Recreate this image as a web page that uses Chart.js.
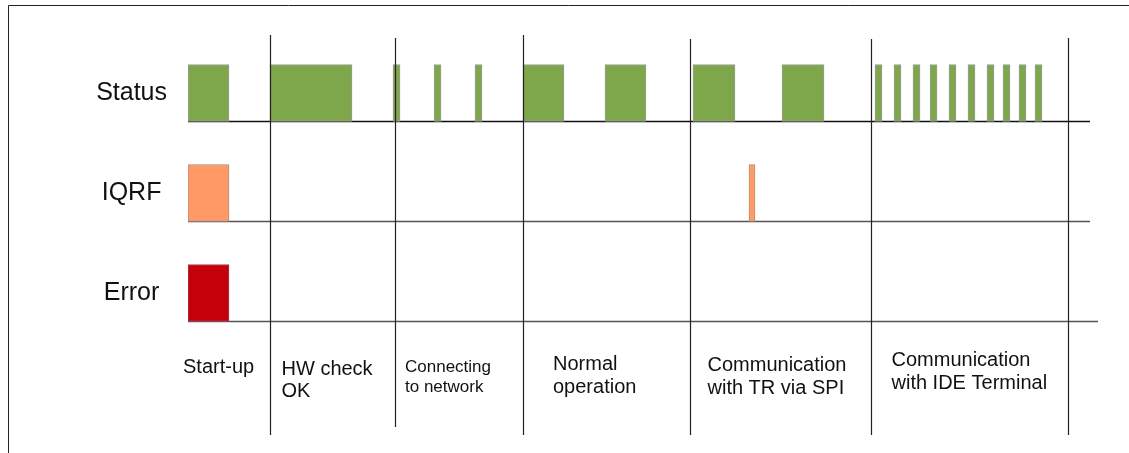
<!DOCTYPE html>
<html>
<head>
<meta charset="utf-8">
<script src="https://cdn.jsdelivr.net/npm/chart.js@4/dist/chart.umd.min.js"></script>
<style>
  body { margin: 0; background: #fff; }
  #wrap { position: relative; width: 1129px; height: 453px; }
</style>
</head>
<body>
<div id="wrap"><canvas id="chart"></canvas></div>
<script>
// Signal rows
const rows = ["Status", "IQRF", "Error"];

// Pulses per row as [start, end] in time units
const statusPulses = [
  [0, 41], [82, 164],
  [205, 212], [246, 253], [287, 294],
  [335, 376], [417, 458],
  [505, 547], [594, 636],
  [687, 694], [706, 713], [725, 732], [742, 749], [761, 768],
  [780, 787], [799, 806], [815, 822], [831, 838], [847, 854]
];
const iqrfPulses = [[0, 41], [561, 567]];
const errorPulses = [[0, 41]];

// End of each trace line
const traceEnd = [902, 902, 910];

// Phase boundaries and names
const phaseBounds = [82, 207, 335, 502, 683, 880];
const phaseLabels = [
  ["Start-up"],
  ["HW check", "OK"],
  ["Connecting", "to network"],
  ["Normal", "operation"],
  ["Communication", "with TR via SPI"],
  ["Communication", "with IDE Terminal"]
];

// Where the phase texts sit (px)
const labelDx = [-5, 11.5, 10, 30, 17.5, 20.5];
const labelY = [373, 374.5, 371.5, 370, 371, 366];
const labelGap = [0, 22, 20, 23, 23, 23];
const labelSize = [20, 20, 17, 20, 20, 20];
const lineTop = [35, 38, 35, 39, 39, 38];
const lineBottom = [435, 427, 435, 435, 435, 435];

const FONT = "'Liberation Sans', Arial, sans-serif";
const BAR_H = 57;

const toPoints = (pulses, row) => pulses.map(p => ({ x: p, y: row }));

const timingDecor = {
  id: "timingDecor",
  beforeDraw(chart) {
    const c = chart.ctx;
    c.save();
    c.strokeStyle = "#222";
    c.lineWidth = 1;
    c.beginPath();
    c.moveTo(8.5, chart.height);
    c.lineTo(8.5, 5.5);
    c.lineTo(chart.width, 5.5);
    c.stroke();
    c.restore();
  },
  beforeDatasetsDraw(chart) {
    const c = chart.ctx;
    const xs = chart.scales.x;
    const ys = chart.scales.y;
    c.save();
    rows.forEach((r, i) => {
      const y = ys.getPixelForValue(i) + BAR_H / 2;
      c.strokeStyle = i === 0 ? "#111" : "#555";
      c.lineWidth = 1.5;
      c.beginPath();
      c.moveTo(xs.getPixelForValue(0), y);
      c.lineTo(xs.getPixelForValue(traceEnd[i]), y);
      c.stroke();
    });
    c.restore();
  },
  afterDatasetsDraw(chart) {
    const c = chart.ctx;
    const xs = chart.scales.x;
    c.save();
    c.strokeStyle = "#222";
    c.lineWidth = 1.2;
    phaseBounds.forEach((b, i) => {
      const x = Math.round(xs.getPixelForValue(b)) + 0.5;
      c.beginPath();
      c.moveTo(x, lineTop[i]);
      c.lineTo(x, lineBottom[i]);
      c.stroke();
    });
    const starts = [0].concat(phaseBounds);
    c.fillStyle = "#111";
    c.textAlign = "left";
    c.textBaseline = "alphabetic";
    phaseLabels.forEach((lines, i) => {
      c.font = labelSize[i] + "px " + FONT;
      const x = xs.getPixelForValue(starts[i]) + labelDx[i];
      lines.forEach((t, k) => {
        c.fillText(t, x, labelY[i] + k * labelGap[i]);
      });
    });
    c.restore();
  }
};

new Chart(document.getElementById("chart"),
{
  type: "bar",
  data:
  {
    labels: rows,
    datasets: [
    {
      label: "Status",
      data: toPoints(statusPulses, "Status"),
      backgroundColor: "#7ea64a",
      borderColor: "#9c9c9c"
    },
    {
      label: "IQRF",
      data: toPoints(iqrfPulses, "IQRF"),
      backgroundColor: "#ff9966",
      borderColor: "#b09080"
    },
    {
      label: "Error",
      data: toPoints(errorPulses, "Error"),
      backgroundColor: "#c4000b",
      borderColor: "#a04050"
    }]
  },
  plugins: [timingDecor],
  options:
  {
    indexAxis: "y",
    responsive: true,
    maintainAspectRatio: false,
    animation: false,
    layout: { padding: { left: 0, right: 31, top: 43, bottom: 110 } },
    datasets:
    {
      bar: { grouped: false, barThickness: BAR_H, borderWidth: 1, borderSkipped: false }
    },
    scales:
    {
      x: { type: "linear", min: 0, max: 910, display: false },
      y:
      {
        type: "category",
        grid: { display: false },
        border: { display: false },
        afterFit(scale) { scale.width = 188; },
        ticks:
        {
          crossAlign: "center",
          padding: 13,
          color: "#111",
          font: { family: FONT, size: 25 }
        }
      }
    },
    plugins:
    {
      legend: { display: false },
      tooltip: { enabled: false }
    }
  }
});
</script>
</body>
</html>
